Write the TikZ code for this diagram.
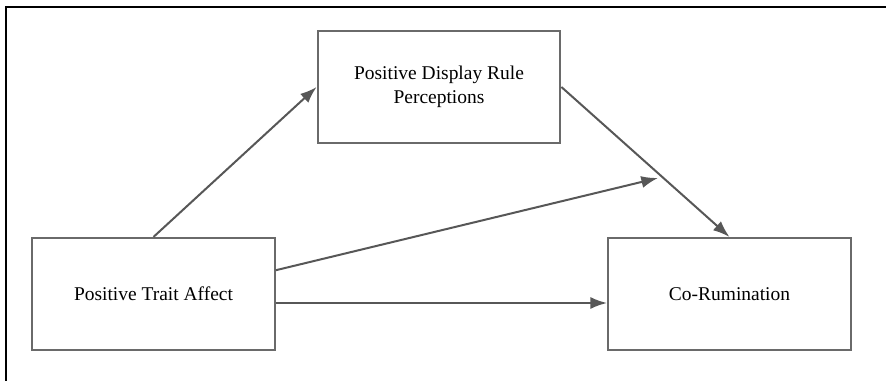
\documentclass[tikz,border=0pt]{standalone}
\usepackage{fontspec}
\setmainfont{Liberation Serif}
\usetikzlibrary{arrows.meta}

\definecolor{pathgray}{HTML}{575757}
\definecolor{boxgray}{HTML}{6A6A6A}

\begin{document}
\begin{tikzpicture}[x=0.75pt,y=-0.75pt,
        varbox/.style={draw=boxgray,line width=1.6pt,minimum width=182pt,minimum height=84pt,inner sep=0pt,align=center,font=\fontsize{14.6}{18}\selectfont},
        path/.style={draw=pathgray,line width=1.5pt,-{Latex[length=12.5pt,width=9pt]}}]
        \useasboundingbox (0,0) rectangle (886,381);
        \draw[line width=1.5pt] (6,381) -- (6,7) -- (886,7);
        \node[varbox] (trait) at (153.5,294) {Positive Trait Affect};
        \node[varbox] (display) at (439,87) {Positive Display Rule\\Perceptions};
        \node[varbox] (rumin) at (729.5,294) {Co-Rumination};
        \coordinate (mod) at (658,178);
        \draw[path] (trait.north) -- (display.west);
        \draw[path] (display.east) -- (rumin.north);
        \draw[path] (trait.11) -- (mod);
        \draw[path] ([yshift=-6.75pt]trait.east) -- ([yshift=-6.75pt]rumin.west);
    \end{tikzpicture}
\end{document}
